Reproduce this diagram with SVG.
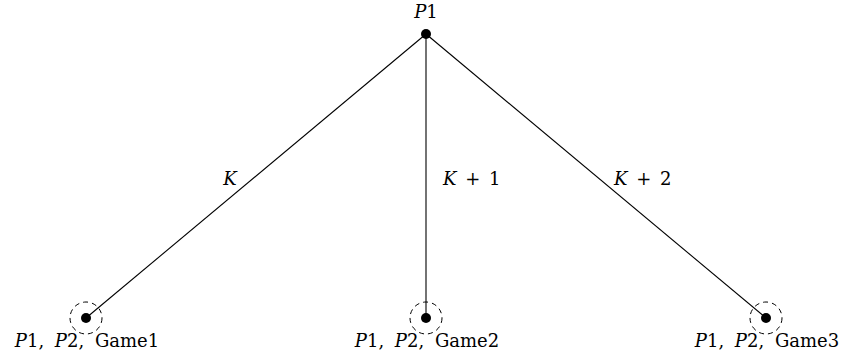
<svg xmlns="http://www.w3.org/2000/svg" width="844" height="358" viewBox="0 0 844 358">
<style>
text{font-family:"DejaVu Serif","Liberation Serif",serif;font-size:18px;fill:#000}
.i{font-style:italic}
.lab{word-spacing:3px}
.leaf{word-spacing:5px}
.edge{stroke:#000;stroke-width:1.1;fill:none}
.dot{fill:#000}
.ring{fill:none;stroke:#000;stroke-width:1;stroke-dasharray:5,4}
</style>
<rect width="844" height="358" fill="#fff"/>
<g id="connectors">
<line class="edge" x1="426" y1="34" x2="86" y2="318"/>
<line class="edge" x1="426" y1="34" x2="426" y2="318"/>
<line class="edge" x1="426" y1="34" x2="766" y2="318"/>
<text x="230" y="185" text-anchor="middle"><tspan class="i">K</tspan></text>
<text x="443" y="185" class="lab"><tspan class="i">K</tspan> + 1</text>
<text x="614" y="185" class="lab"><tspan class="i">K</tspan> + 2</text>
</g>
<g id="root">
<circle class="dot" cx="426" cy="34" r="5"/>
<text x="426" y="18" text-anchor="middle"><tspan class="i">P</tspan>1</text>
</g>
<g id="leaf1">
<circle class="ring" cx="86" cy="318" r="16"/>
<circle class="dot" cx="86" cy="318" r="5"/>
<text x="87" y="347" text-anchor="middle" class="leaf"><tspan class="i">P</tspan>1, <tspan class="i">P</tspan>2, Game1</text>
</g>
<g id="leaf2">
<circle class="ring" cx="426" cy="318" r="16"/>
<circle class="dot" cx="426" cy="318" r="5"/>
<text x="427" y="347" text-anchor="middle" class="leaf"><tspan class="i">P</tspan>1, <tspan class="i">P</tspan>2, Game2</text>
</g>
<g id="leaf3">
<circle class="ring" cx="766" cy="318" r="16"/>
<circle class="dot" cx="766" cy="318" r="5"/>
<text x="767" y="347" text-anchor="middle" class="leaf"><tspan class="i">P</tspan>1, <tspan class="i">P</tspan>2, Game3</text>
</g>
</svg>
